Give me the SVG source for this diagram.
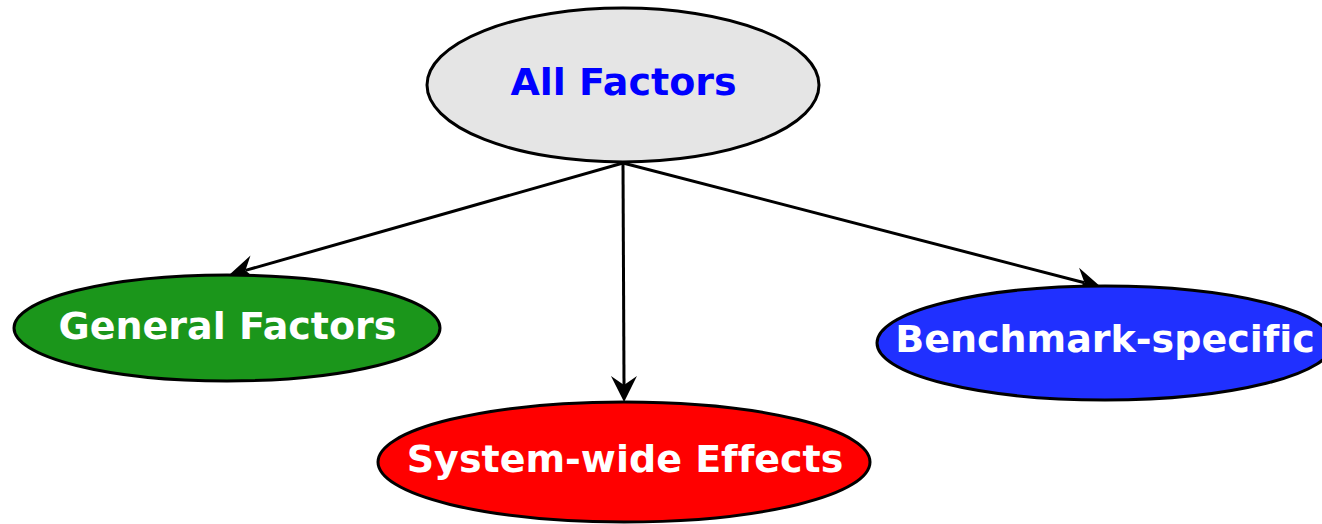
<svg xmlns="http://www.w3.org/2000/svg" width="1322" height="524" viewBox="0 0 1322 524">
  <style>
    .node ellipse { stroke: #000; stroke-width: 3; }
    .label { font-family: "DejaVu Sans", "Liberation Sans", sans-serif; font-weight: bold; font-size: 38px; text-anchor: middle; fill: #fff; font-variant-ligatures: none; }
    .edge { stroke: #000; stroke-width: 3; fill: none; marker-end: url(#arrow); }
  </style>
  <defs>
    <marker id="arrow" markerUnits="userSpaceOnUse" markerWidth="40" markerHeight="40" refX="0" refY="0" orient="auto" overflow="visible">
      <path d="M17,0 L-9,-13 L0,0 L-9,13 Z" fill="#000"/>
    </marker>
  </defs>
  <rect width="1322" height="524" fill="#fff"/>

  <g id="connectors">
    <line class="edge" x1="623" y1="163" x2="245.4" y2="270.4"/>
    <line class="edge" x1="623" y1="163" x2="624" y2="385"/>
    <line class="edge" x1="623" y1="163" x2="1084.5" y2="282.7"/>
  </g>

  <g id="all-factors" class="node">
    <ellipse cx="623" cy="85" rx="196" ry="77" fill="#e5e5e5"/>
    <text class="label" x="623.5" y="95" style="fill:#0000ff">All Factors</text>
  </g>

  <g id="general-factors" class="node">
    <ellipse cx="227" cy="328" rx="213" ry="53" fill="#1b961b"/>
    <text class="label" x="227.5" y="339">General Factors</text>
  </g>

  <g id="system-wide-effects" class="node">
    <ellipse cx="624" cy="462" rx="246" ry="60" fill="#ff0000"/>
    <text class="label" x="625" y="472">System-wide Effects</text>
  </g>

  <g id="benchmark-specific" class="node">
    <ellipse cx="1105" cy="343" rx="228" ry="57" fill="#2030ff"/>
    <text class="label" x="1105" y="352">Benchmark-specific</text>
  </g>
</svg>
